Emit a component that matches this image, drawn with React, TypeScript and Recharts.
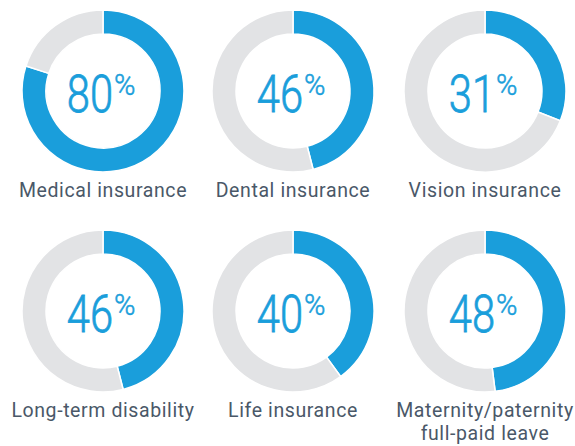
import { PieChart, Pie, Cell } from 'recharts';

const labels = [
  ['Medical insurance'],
  ['Dental insurance'],
  ['Vision insurance'],
  ['Long-term disability'],
  ['Life insurance'],
  ['Maternity/paternity', 'full-paid leave'],
];
const values = [80, 46, 31, 46, 40, 48];

const colX = [103, 293, 485];
const rowY = [91, 311];
const BLUE = '#1a9edb';
const GREY = '#e2e3e5';

function Donut({ value, label, cx, cy }: { value: number; label: string[]; cx: number; cy: number }) {
  const data = [
    { name: 'yes', v: value },
    { name: 'no', v: 100 - value },
  ];
  // local centre inside the 190x180 cell
  const lx = 95;
  const ly = 90;
  const x0 = lx + 10;
  return (
    <div style={{ position: 'absolute', left: cx - lx, top: cy - ly, width: 190, height: 180 }}>
      <PieChart width={190} height={180} margin={{ top: 0, right: 0, bottom: 0, left: 0 }}>
        <Pie
          data={data}
          dataKey="v"
          cx={lx}
          cy={ly}
          innerRadius={57}
          outerRadius={81}
          startAngle={90}
          endAngle={-270}
          stroke="#ffffff"
          strokeWidth={1.5}
          isAnimationActive={false}
        >
          <Cell fill={BLUE} />
          <Cell fill={GREY} />
        </Pie>
      </PieChart>
      <svg width={190} height={180} style={{ position: 'absolute', left: 0, top: 0, pointerEvents: 'none' }}>
        <text
          x={x0}
          y={ly + 21}
          textAnchor="end"
          fill={BLUE}
          stroke={BLUE}
          strokeWidth={0.8}
          fontFamily="Roboto, sans-serif"
          fontWeight={300}
          fontSize={52}
          transform={`translate(${x0} 0) scale(0.8 1) translate(${-x0} 0)`}
        >
          {value}
        </text>
        <text
          x={lx + 11}
          y={ly + 4}
          textAnchor="start"
          fill={BLUE}
          stroke={BLUE}
          strokeWidth={0.5}
          fontFamily="Roboto, sans-serif"
          fontWeight={300}
          fontSize={29}
        >
          %
        </text>
      </svg>
      <div
        style={{
          position: 'absolute',
          left: -15,
          top: 179,
          width: 220,
          textAlign: 'center',
          color: '#4a5868',
          fontFamily: 'Roboto, sans-serif',
          fontSize: 19.5,
          letterSpacing: 0.6,
          lineHeight: '22.5px',
        }}
      >
        {label.map((l) => (
          <div key={l}>{l}</div>
        ))}
      </div>
    </div>
  );
}

export default function App() {
  return (
    <div style={{ position: 'absolute', left: 0, top: 0, width: 575, height: 446, background: '#ffffff' }}>
      {values.map((v, i) => (
        <Donut key={i} value={v} label={labels[i]} cx={colX[i % 3]} cy={rowY[Math.floor(i / 3)]} />
      ))}
    </div>
  );
}
